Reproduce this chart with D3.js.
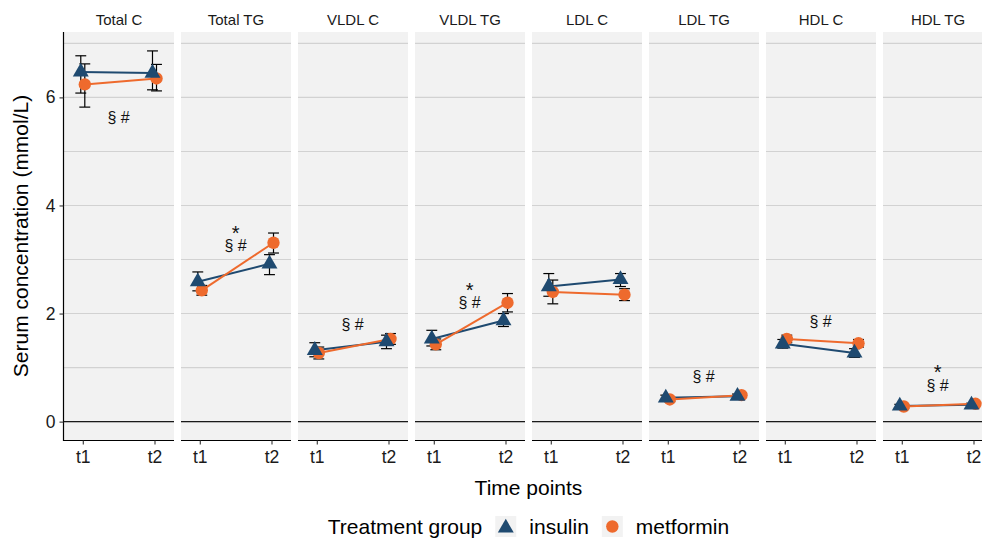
<!DOCTYPE html>
<html>
<head>
<meta charset="utf-8">
<script src="https://cdn.jsdelivr.net/npm/d3@7"></script>
<style>
  html, body { margin: 0; padding: 0; background: #ffffff; }
  svg { display: block; font-family: "Liberation Sans", Arial, Helvetica, sans-serif; }
</style>
</head>
<body>
<svg id="chart" width="982" height="539"></svg>
<script>
// ---------------- data ----------------
const panels = ["Total C", "Total TG", "VLDL C", "VLDL TG", "LDL C", "LDL TG", "HDL C", "HDL TG"];
const timeLabels = ["t1", "t2"];
const groups = ["insulin", "metformin"];

const insulinT1 = [6.47, 2.59, 1.32, 1.53, 2.50, 0.44, 1.44, 0.29];
const insulinT2 = [6.45, 2.92, 1.48, 1.87, 2.63, 0.47, 1.27, 0.31];
const metforminT1 = [6.24, 2.43, 1.27, 1.43, 2.40, 0.41, 1.53, 0.28];
const metforminT2 = [6.35, 3.31, 1.53, 2.20, 2.35, 0.49, 1.45, 0.33];

const insulinT1Lo = [6.08, 2.42, 1.20, 1.40, 2.32, 0.40, 1.36, 0.26];
const insulinT1Hi = [6.77, 2.77, 1.46, 1.69, 2.74, 0.49, 1.52, 0.32];
const insulinT2Lo = [6.14, 2.72, 1.35, 1.76, 2.50, 0.43, 1.19, 0.28];
const insulinT2Hi = [6.86, 3.09, 1.60, 2.00, 2.74, 0.51, 1.35, 0.34];
const metforminT1Lo = [5.82, 2.34, 1.16, 1.33, 2.18, 0.37, 1.46, 0.25];
const metforminT1Hi = [6.62, 2.52, 1.38, 1.53, 2.62, 0.45, 1.60, 0.31];
const metforminT2Lo = [6.12, 3.12, 1.43, 2.03, 2.24, 0.45, 1.38, 0.30];
const metforminT2Hi = [6.61, 3.49, 1.63, 2.37, 2.46, 0.53, 1.52, 0.36];

// significance annotations (label y in mmol/L; null = none)
const sectionHashY = [5.63, 3.26, 1.79, 2.20, null, 0.83, 1.86, 0.67];
const starY = [null, 3.49, null, 2.43, null, null, null, 0.91];

const yTicks = [0, 2, 4, 6];
const yGrid = [0, 1, 2, 3, 4, 5, 6, 7];

const colors = { insulin: "#1f4a70", metformin: "#ee6a2d" };

// ---------------- layout ----------------
const svg = d3.select("#chart");
const panelTop = 32, panelBottom = 440;
const plotLeft = 64, panelW = 110, gapW = 7;
const plotRight = plotLeft + panels.length * panelW + (panels.length - 1) * gapW;

const xPanel = d3.scaleBand().domain(panels).range([plotLeft, plotRight])
  .paddingInner(gapW / (panelW + gapW)).paddingOuter(0);
const xIn = d3.scaleLinear().domain([0.738, 2.272]).range([0, xPanel.bandwidth()]);
const y = d3.scaleLinear().domain([-0.34, 7.21]).range([panelBottom, panelTop]);
const dodge = { insulin: -0.028, metformin: 0.028 };
const capHalf = 0.076;

const series = {
  insulin: { mean: [insulinT1, insulinT2], lo: [insulinT1Lo, insulinT2Lo], hi: [insulinT1Hi, insulinT2Hi] },
  metformin: { mean: [metforminT1, metforminT2], lo: [metforminT1Lo, metforminT2Lo], hi: [metforminT1Hi, metforminT2Hi] }
};

function triPath(r) {
  const h = r / 2, w = r * Math.sqrt(3) / 2;
  return `M0,${-r}L${w},${h}L${-w},${h}Z`;
}

panels.forEach((p, i) => {
  const g = svg.append("g").attr("transform", `translate(${xPanel(p)},0)`);
  const bw = xPanel.bandwidth();
  g.append("rect").attr("x", 0).attr("y", panelTop).attr("width", bw)
    .attr("height", panelBottom - panelTop).attr("fill", "#f2f2f2");
  g.selectAll("line.grid").data(yGrid).enter().append("line")
    .attr("x1", 0).attr("x2", bw).attr("y1", d => y(d)).attr("y2", d => y(d))
    .attr("stroke", "#d2d2d2").attr("stroke-width", 1.1);
  g.append("line").attr("x1", 0).attr("x2", bw).attr("y1", y(0)).attr("y2", y(0))
    .attr("stroke", "#1a1a1a").attr("stroke-width", 1.3);

  // strip label
  g.append("text").attr("x", bw / 2).attr("y", 25).attr("text-anchor", "middle")
    .attr("font-size", 15).attr("fill", "#1a1a1a").text(p);

  const pts = {};
  groups.forEach(gr => {
    pts[gr] = [0, 1].map(t => ({
      x: xIn(t + 1 + dodge[gr]),
      xl: xIn(t + 1 + dodge[gr] - capHalf),
      xr: xIn(t + 1 + dodge[gr] + capHalf),
      m: series[gr].mean[t][i], lo: series[gr].lo[t][i], hi: series[gr].hi[t][i]
    }));
  });

  // error bars
  groups.forEach(gr => {
    pts[gr].forEach(d => {
      const eg = g.append("g").attr("stroke", "#000").attr("stroke-width", 1.2).attr("fill", "none");
      eg.append("line").attr("x1", d.x).attr("x2", d.x).attr("y1", y(d.lo)).attr("y2", y(d.hi));
      eg.append("line").attr("x1", d.xl).attr("x2", d.xr).attr("y1", y(d.lo)).attr("y2", y(d.lo));
      eg.append("line").attr("x1", d.xl).attr("x2", d.xr).attr("y1", y(d.hi)).attr("y2", y(d.hi));
    });
  });

  // lines
  const line = d3.line().x(d => d.x).y(d => y(d.m));
  groups.forEach(gr => {
    g.append("path").attr("d", line(pts[gr])).attr("fill", "none")
      .attr("stroke", colors[gr]).attr("stroke-width", 2);
  });

  // points: circles first, triangles on top
  g.selectAll("circle.pt").data(pts.metformin).enter().append("circle")
    .attr("cx", d => d.x).attr("cy", d => y(d.m)).attr("r", 6.2).attr("fill", colors.metformin);
  g.selectAll("path.tri").data(pts.insulin).enter().append("path")
    .attr("d", triPath(9.2)).attr("transform", d => `translate(${d.x},${y(d.m)})`)
    .attr("fill", colors.insulin);

  // annotations (one text element per panel, stacked lines as tspans)
  if (sectionHashY[i] !== null || starY[i] !== null) {
    const at = g.append("text").attr("text-anchor", "middle").attr("fill", "#111");
    if (starY[i] !== null) {
      at.append("tspan").attr("x", xIn(1.5)).attr("y", y(starY[i]))
        .attr("dominant-baseline", "central").attr("font-size", 20).text("*");
    }
    if (sectionHashY[i] !== null) {
      at.append("tspan").attr("x", xIn(1.5)).attr("y", y(sectionHashY[i]))
        .attr("dominant-baseline", "central").attr("font-size", 16).text("§ #");
    }
  }

  // bottom axis
  const ax = g.append("g").attr("transform", `translate(0,${panelBottom + 0.5})`)
    .call(d3.axisBottom(xIn).tickValues([1, 2]).tickFormat(d => timeLabels[d - 1]).tickSizeOuter(0).tickSize(4));
  ax.select(".domain").attr("stroke", "#000").attr("stroke-width", 1.2).attr("d", `M0,0H${bw}`);
  ax.selectAll(".tick line").attr("stroke", "#333").attr("stroke-width", 1.1);
  ax.selectAll(".tick text").attr("font-size", 17.5).attr("fill", "#1a1a1a").attr("dy", null).attr("y", 22)
    .attr("font-family", "Liberation Sans, Arial, sans-serif");
});

// left axis
const ay = svg.append("g").attr("transform", `translate(${plotLeft - 0.5},0)`)
  .call(d3.axisLeft(y).tickValues(yTicks).tickSize(4).tickSizeOuter(0));
ay.select(".domain").attr("stroke", "#000").attr("stroke-width", 1.2).attr("d", `M0,${panelTop}V${panelBottom + 1}`);
ay.selectAll(".tick line").attr("stroke", "#333").attr("stroke-width", 1.1);
ay.selectAll(".tick text").attr("font-size", 17.5).attr("fill", "#1a1a1a").attr("x", -8)
  .attr("font-family", "Liberation Sans, Arial, sans-serif");

// axis titles
svg.append("text").attr("x", (plotLeft + plotRight) / 2).attr("y", 495).attr("text-anchor", "middle")
  .attr("font-size", 21).attr("fill", "#000").text("Time points");
svg.append("text").attr("transform", `translate(28,${(panelTop + panelBottom) / 2}) rotate(-90)`)
  .attr("text-anchor", "middle").attr("font-size", 21).attr("fill", "#000")
  .text("Serum concentration (mmol/L)");

// legend
const lg = svg.append("g");
const legY = 534, keyS = 21, gap = 13;
const titleT = lg.append("text").attr("y", legY).attr("font-size", 21).text("Treatment group");
const items = groups.map(gr => {
  const key = lg.append("g");
  key.append("rect").attr("width", keyS).attr("height", keyS).attr("fill", "#f2f2f2");
  if (gr === "insulin") {
    key.append("path").attr("d", triPath(9.2)).attr("transform", `translate(${keyS / 2},${keyS / 2 + 1.5})`).attr("fill", colors[gr]);
  } else {
    key.append("circle").attr("cx", keyS / 2).attr("cy", keyS / 2).attr("r", 6.2).attr("fill", colors[gr]);
  }
  const t = lg.append("text").attr("y", legY).attr("font-size", 21).text(gr);
  return { key, t };
});
let total = titleT.node().getComputedTextLength();
items.forEach(it => { total += gap + keyS + gap + it.t.node().getComputedTextLength(); });
let cx = (plotLeft + plotRight) / 2 - total / 2;
titleT.attr("x", cx);
cx += titleT.node().getComputedTextLength() + gap;
items.forEach((it, k) => {
  it.key.attr("transform", `translate(${cx},${516})`);
  cx += keyS + gap;
  it.t.attr("x", cx);
  cx += it.t.node().getComputedTextLength() + (k < items.length - 1 ? gap : 0);
});
</script>
</body>
</html>
